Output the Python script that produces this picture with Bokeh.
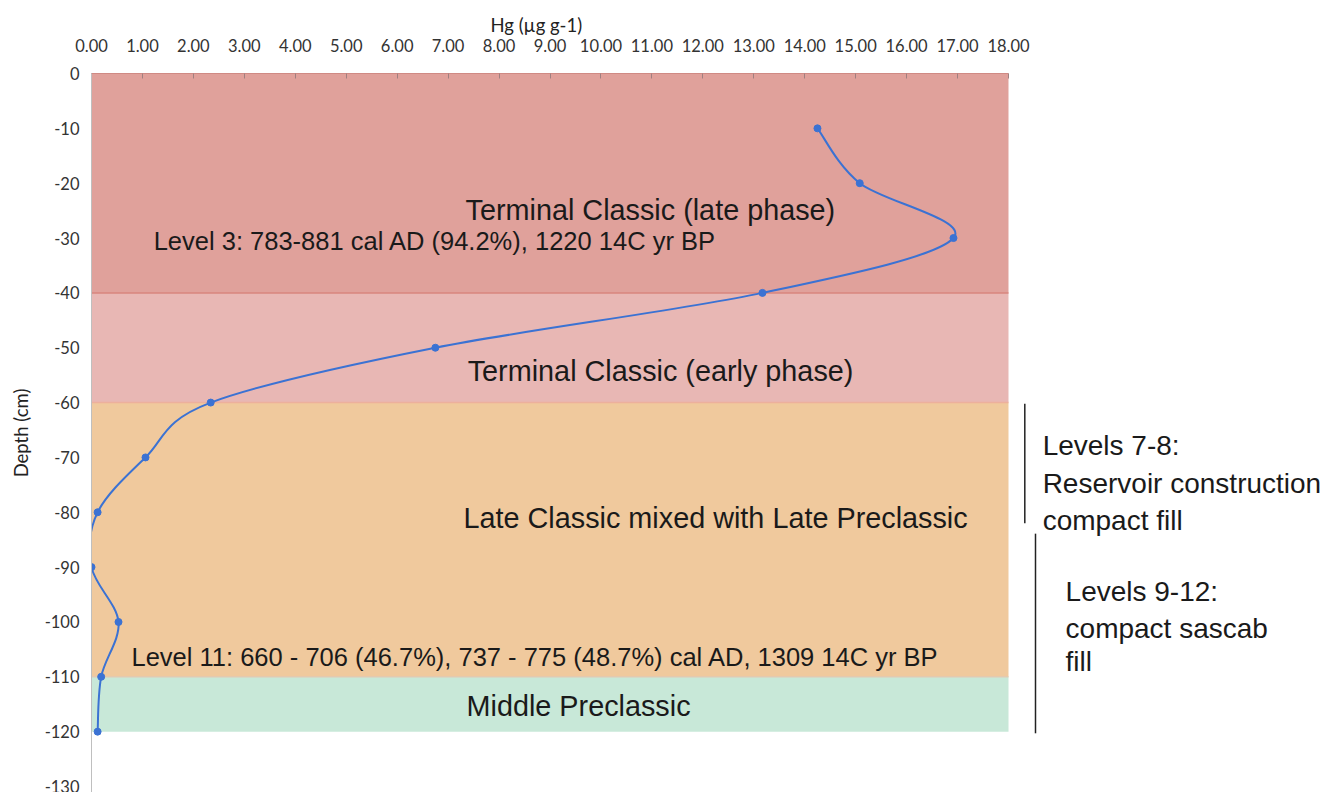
import numpy as np
from bokeh.plotting import figure
from bokeh.models import Range1d, FixedTicker, NumeralTickFormatter, PrintfTickFormatter
from bokeh.core.properties import value
from bokeh.embed import file_html
from bokeh.resources import INLINE

# ---------------- data ----------------
depth = [-10, -20, -30, -40, -50, -60, -70, -80, -90, -100, -110, -120]
hg = [14.25, 15.08, 16.92, 13.17, 6.75, 2.34, 1.06, 0.12, 0.0, 0.53, 0.19, 0.12]

band_top = [0, -40, -60, -110]
band_bottom = [-40, -60, -110, -120]
band_colors = ["#E0A19B", "#E8B7B4", "#F0C99D", "#C8E8D8"]
band_edge_colors = ["#D9867E", "#EDB09C", "#E3C9B0"]

x_ticks = list(range(0, 19))
y_ticks = list(range(0, -131, -10))

# ---------------- figure ----------------
W, H = 1327, 792
LEFT, TOP = 91, 73
X_END = 18 * (W - LEFT) / 917
Y_END = -(H - TOP) * 130 / 713
p = figure(width=W, height=H,
           x_range=Range1d(0, X_END), y_range=Range1d(Y_END, 0),
           x_axis_location="above",
           output_backend="svg", toolbar_location=None,
           min_border_left=LEFT, min_border_right=0,
           min_border_top=TOP, min_border_bottom=0)
p.outline_line_color = None
p.xgrid.visible = False
p.ygrid.visible = False
p.background_fill_color = "white"

# top axis title, placed over the 0-18 span
p.title.text = "Hg (µg g-1)"
p.title.align = "left"
p.title.offset = 399
p.title.standoff = 0
p.title.text_font = "Lato"
p.title.text_font_style = "normal"
p.title.text_font_size = "18.5px"
p.title.text_color = "#222222"

# bands
p.quad(left=0, right=18, top=band_top, bottom=band_bottom,
       fill_color=band_colors, line_color=None)
p.segment(x0=[0] * 3, x1=[18] * 3, y0=band_bottom[:3], y1=band_bottom[:3],
          line_color=band_edge_colors, line_width=1.5)

# smoothed line (Catmull-Rom style Bezier through the data points)
X = np.array(hg)
Y = np.array(depth, dtype=float)
n = len(X)
Xp = np.concatenate([[X[0]], X, [X[-1]]])
Yp = np.concatenate([[Y[0]], Y, [Y[-1]]])
x0 = X[:-1]; y0 = Y[:-1]; x1 = X[1:]; y1 = Y[1:]
cx0 = X[:-1] + (Xp[2:n + 1] - Xp[0:n - 1]) / 6.0
cy0 = Y[:-1] + (Yp[2:n + 1] - Yp[0:n - 1]) / 6.0
cx1 = X[1:] - (Xp[3:n + 2] - Xp[1:n]) / 6.0
cy1 = Y[1:] - (Yp[3:n + 2] - Yp[1:n]) / 6.0
line_col = "#3B72D3"
p.bezier(x0=x0, y0=y0, x1=x1, y1=y1, cx0=cx0, cy0=cy0, cx1=cx1, cy1=cy1,
         line_color=line_col, line_width=2)
p.scatter(x=hg, y=depth, size=7, fill_color=line_col, line_color=line_col)

# annotations inside chart
font = value("Liberation Sans")
tc = "#1a1a1a"
p.text(x=[10.97, 11.17, 12.25, 9.56], y=[-24.8, -54.3, -81.0, -115.4],
       text=["Terminal Classic (late phase)", "Terminal Classic (early phase)",
             "Late Classic mixed with Late Preclassic", "Middle Preclassic"],
       text_font=font, text_font_size="28.8px", text_align="center",
       text_baseline="middle", text_color=tc)
p.text(x=[1.22, 0.785], y=[-30.6, -106.3],
       text=["Level 3: 783-881 cal AD (94.2%), 1220 14C yr BP",
             "Level 11: 660 - 706 (46.7%), 737 - 775 (48.7%) cal AD, 1309 14C yr BP"],
       text_font=font, text_font_size="25.5px", text_align="left",
       text_baseline="middle", text_color=tc)

# annotations on the right
p.text(x=[18.67] * 3, y=[-67.8, -74.75, -81.5],
       text=["Levels 7-8:", "Reservoir construction", "compact fill"],
       text_font=font, text_font_size="28px", text_align="left",
       text_baseline="middle", text_color=tc)
p.text(x=[19.12] * 3, y=[-94.4, -101.2, -107.2],
       text=["Levels 9-12:", "compact sascab", "fill"],
       text_font=font, text_font_size="28px", text_align="left",
       text_baseline="middle", text_color=tc)
p.segment(x0=[18.32, 18.53], x1=[18.32, 18.53], y0=[-60.2, -83.9], y1=[-82.0, -120.3],
          line_color="#222222", line_width=1.5)

# axes
ax = p.xaxis[0]
ax.ticker = FixedTicker(ticks=x_ticks)
ax.formatter = NumeralTickFormatter(format="0.00")
ax.bounds = (0, 18)
ax.major_label_text_font = "Lato"
ax.major_label_text_font_size = "16.5px"
ax.major_label_text_color = "#333333"
ax.major_label_standoff = 22
ax.major_tick_in = 5
ax.major_tick_out = 0
ax.minor_tick_line_color = None
ax.major_tick_line_color = "#A08080"
ax.axis_line_color = "#D08A84"

ay = p.yaxis[0]
ay.ticker = FixedTicker(ticks=y_ticks)
ay.formatter = PrintfTickFormatter(format="%d")
ay.axis_label = "Depth (cm)"
ay.axis_label_text_font = "Lato"
ay.axis_label_text_font_style = "normal"
ay.axis_label_text_font_size = "18.5px"
ay.axis_label_text_color = "#222222"
ay.axis_label_standoff = 10
ay.major_label_text_font = "Lato"
ay.major_label_text_font_size = "16.5px"
ay.major_label_text_color = "#333333"
ay.major_label_standoff = 12
ay.major_tick_in = 0
ay.major_tick_out = 0
ay.minor_tick_line_color = None
ay.axis_line_color = "#BFBFBF"

open("out.html", "w").write(file_html(p, INLINE))
